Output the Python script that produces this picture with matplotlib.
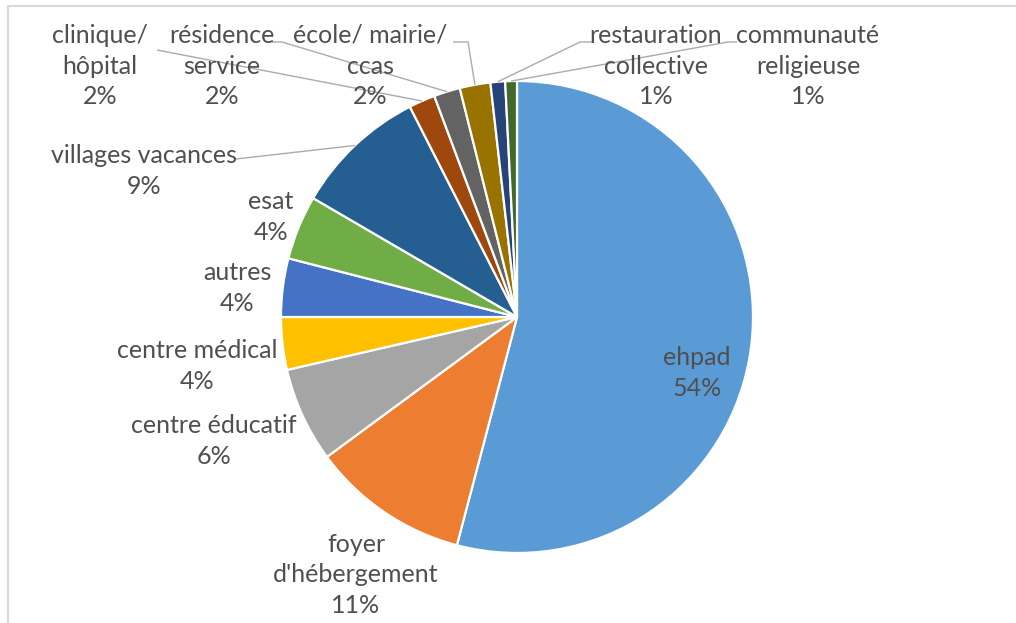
import matplotlib.pyplot as plt
import numpy as np
from matplotlib.patches import Rectangle

# categories, clockwise from 12 o'clock
labels = ["ehpad", "foyer\nd'hébergement", "centre éducatif", "centre médical",
          "autres", "esat", "villages vacances", "clinique/\nhôpital",
          "résidence\nservice", "école/ mairie/\nccas", "restauration\ncollective",
          "communauté\nreligieuse"]
values = [54.1, 10.8, 6.5, 3.6, 4.0, 4.4, 9.1, 1.8, 1.8, 2.1, 1.0, 0.8]
colors = ["#5B9BD5", "#ED7D31", "#A5A5A5", "#FFC000", "#4472C4", "#70AD47",
          "#255E91", "#9E480E", "#636363", "#997300", "#264478", "#43682B"]

# label layout in pixels (text centre, leader start, optional elbow)
W, H = 1016, 623
CX, CY, R = 517, 317, 236
label_pos = [(697, 373), (356, 575), (214, 441), (197, 366), (237, 288), (271, 217),
             (144, 171), (100, 66), (222, 66), (370, 66), (656, 66), (808, 66)]
leaders = {6: [(236, 159)],
           7: [(157, 50)],
           8: [(272, 42), (282, 42)],
           9: [(453, 42), (468, 42)],
           10: [(592, 42), (580, 42)],
           11: [(737, 42), (728, 42)]}

def to_data(px, py):
    return (px - CX) / R, (CY - py) / R

fig = plt.figure(figsize=(W / 100, H / 100), dpi=100)
ax = fig.add_axes([0, 0, 1, 1])

wedges, _ = ax.pie(values, colors=colors, startangle=90, counterclock=False,
                   radius=1, wedgeprops=dict(edgecolor="white", linewidth=1.6))
ax.set_xlim(-CX / R, (W - CX) / R)
ax.set_ylim((CY - H) / R, CY / R)
ax.set_aspect("equal")
ax.axis("off")

total = sum(values)
for i, (lab, v) in enumerate(zip(labels, values)):
    pct = f"{round(v / total * 100)}%"
    x, y = to_data(*label_pos[i])
    ax.text(x, y, lab + "\n" + pct, ha="center", va="center", fontsize=18,
            color="#4f4f4f", family=["Lato", "DejaVu Sans"], linespacing=1.4)
    if i in leaders:
        w = wedges[i]
        ang = np.deg2rad((w.theta1 + w.theta2) / 2)
        pts = [to_data(*p) for p in leaders[i]] + [(np.cos(ang), np.sin(ang))]
        xs, ys = zip(*pts)
        ax.plot(xs, ys, color="#ABABAB", lw=1.0, solid_capstyle="butt")

# chart frame (only top and left edges visible)
fig.patches.append(Rectangle((8 / W, -0.5), 2, 0.5 + 1 - 6 / H, transform=fig.transFigure,
                             fill=False, edgecolor="#D9D9D9", lw=1.5))

fig.savefig("out.png", dpi=100)
